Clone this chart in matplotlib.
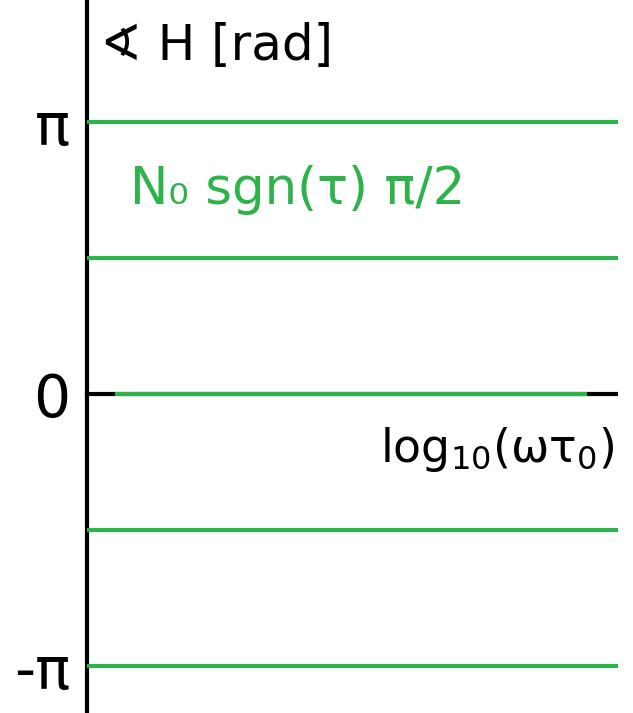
import numpy as np
import matplotlib
matplotlib.use("Agg")
import matplotlib.pyplot as plt

plt.rcParams['font.family'] = ['DejaVu Sans', 'Noto Sans']
plt.rcParams['mathtext.fontset'] = 'dejavusans'

# phase levels of the green lines (rad)
levels = [np.pi, np.pi / 2, 0.0, -np.pi / 2, -np.pi]
# x span of each line in log10(omega tau0)
x_start = [-5.0, -5.0, -4.47, -5.0, -5.0]
x_end = [5.0, 5.0, 4.42, 5.0, 5.0]
tick_pos = [np.pi, 0.0, -np.pi]
tick_labels = ["π", "0", "-π"]

green = "#2db34a"

fig = plt.figure(figsize=(6.33, 7.13), dpi=100)
ax = fig.add_axes([87 / 633, 0, (618 - 87) / 633, 1])

for y, a, b in zip(levels, x_start, x_end):
    ax.plot([a, b], [y, y], color=green, lw=3, solid_capstyle='butt', zorder=3)

ax.set_xlim(-5, 5)
ax.set_ylim(-3.68, 4.55)

ax.spines['top'].set_visible(False)
ax.spines['right'].set_visible(False)
ax.spines['left'].set_linewidth(3)
ax.spines['bottom'].set_linewidth(3)
ax.spines['bottom'].set_position(('data', 0))
ax.spines['bottom'].set_bounds(-5, 4.97)

ax.set_xticks([])
ax.set_yticks(tick_pos)
ax.set_yticklabels(tick_labels, fontsize=42)
ax.tick_params(axis='y', length=0, pad=12)

ax.text(-4.76, 3.86, "∢ H [rad]", fontsize=36, ha='left', va='baseline')
ax.text(4.94, -0.78, r"$\mathregular{log_{10}(\omega\tau_0)}$", fontsize=33,
        ha='right', va='baseline')
ax.text(-4.19, 2.2, "N₀ sgn(τ) π/2", fontsize=37, color=green,
        ha='left', va='baseline')

fig.savefig("out.png", dpi=100)
